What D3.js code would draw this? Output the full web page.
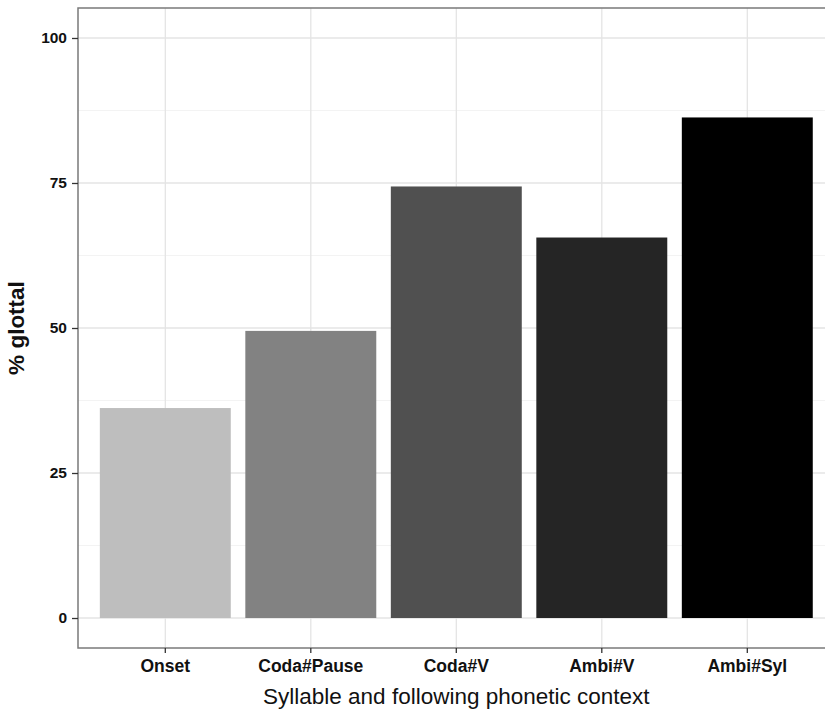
<!DOCTYPE html>
<html><head><meta charset="utf-8">
<script src="https://cdn.jsdelivr.net/npm/d3@7"></script>
<style>body{margin:0;background:#fff;} svg{display:block;}</style>
</head><body>
<svg id="chart" width="825" height="711"></svg>
<script>
const categories = ["Onset", "Coda#Pause", "Coda#V", "Ambi#V", "Ambi#Syl"];
const values = [36.2, 49.5, 74.4, 65.6, 86.3];
const fills = ["#bebebe", "#828282", "#505050", "#252525", "#000000"];
const yTicks = [0, 25, 50, 75, 100];
const yMinor = [12.5, 37.5, 62.5, 87.5];

const svg = d3.select("#chart");
const font = "'Liberation Sans', Arial, sans-serif";
const pLeft = 78, pTop = 8, pBottom = 648;
const step = 145.5;
const pRight = pLeft + step * (categories.length + 0.2);

const x = d3.scaleBand().domain(categories).range([pLeft, pRight]).paddingInner(0.1).paddingOuter(0.15);
const y = d3.scaleLinear().domain([-5.17, 105.17]).range([pBottom, pTop]);

const g = svg.append("g");
g.selectAll(".minor").data(yMinor).join("line")
  .attr("x1", pLeft).attr("x2", pRight).attr("y1", d => y(d)).attr("y2", d => y(d))
  .attr("stroke", "#f3f3f3").attr("stroke-width", 1);
g.selectAll(".major").data(yTicks).join("line")
  .attr("x1", pLeft).attr("x2", pRight).attr("y1", d => y(d)).attr("y2", d => y(d))
  .attr("stroke", "#e4e4e4").attr("stroke-width", 1.3);
g.selectAll(".vmajor").data(categories).join("line")
  .attr("x1", d => x(d) + x.bandwidth()/2).attr("x2", d => x(d) + x.bandwidth()/2)
  .attr("y1", pTop).attr("y2", pBottom)
  .attr("stroke", "#e4e4e4").attr("stroke-width", 1.3);

g.selectAll(".bar").data(categories).join("rect")
  .attr("x", d => x(d)).attr("width", x.bandwidth())
  .attr("y", (d, i) => y(values[i])).attr("height", (d, i) => y(0) - y(values[i]))
  .attr("fill", (d, i) => fills[i]);

svg.append("rect").attr("x", pLeft).attr("y", pTop).attr("width", pRight - pLeft).attr("height", pBottom - pTop)
  .attr("fill", "none").attr("stroke", "#7a7a7a").attr("stroke-width", 1.5);

const yAxis = svg.append("g").attr("transform", `translate(${pLeft},0)`)
  .call(d3.axisLeft(y).tickValues(yTicks).tickSize(6).tickPadding(5).tickFormat(d3.format("d")));
yAxis.select(".domain").remove();
yAxis.selectAll(".tick line").attr("stroke", "#333").attr("stroke-width", 1.3);
yAxis.selectAll("text").attr("font-family", font).attr("font-size", 15.5).attr("font-weight", "bold").attr("fill", "#111");

const xAxis = svg.append("g").attr("transform", `translate(0,${pBottom})`)
  .call(d3.axisBottom(x).tickSize(5).tickPadding(7));
xAxis.select(".domain").remove();
xAxis.selectAll(".tick line").attr("stroke", "#333").attr("stroke-width", 1.3);
xAxis.selectAll("text").attr("font-family", font).attr("font-size", 17.5).attr("font-weight", "bold").attr("fill", "#111");

svg.append("text").attr("x", (pLeft + pRight) / 2).attr("y", 704)
  .attr("text-anchor", "middle").attr("font-family", font).attr("font-size", 22.5)
  .attr("fill", "#111").text("Syllable and following phonetic context");
svg.append("text").attr("transform", `translate(24,${(pTop + pBottom) / 2}) rotate(-90)`)
  .attr("text-anchor", "middle").attr("font-family", font).attr("font-size", 22.5).attr("font-weight", "bold")
  .attr("fill", "#111").text("% glottal");
</script>
</body></html>
